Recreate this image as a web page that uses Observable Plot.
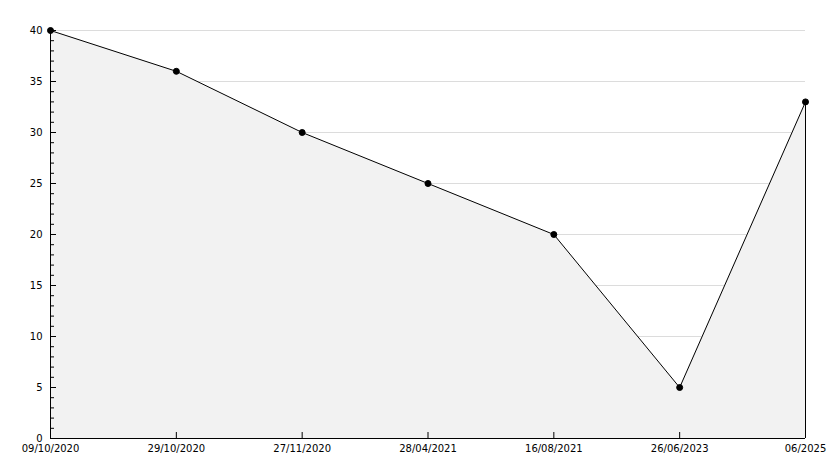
<!DOCTYPE html>
<html><head><meta charset="utf-8">
<script src="https://cdn.jsdelivr.net/npm/d3@7"></script>
<script src="https://cdn.jsdelivr.net/npm/@observablehq/plot@0.6"></script>
<style>body{margin:0;background:#fff}</style>
</head><body><div id="chart"></div>
<script>
const dates = ["09/10/2020", "29/10/2020", "27/11/2020", "28/04/2021", "16/08/2021", "26/06/2023", "06/2025"];
const values = [40, 36, 30, 25, 20, 5, 33];
const yMajorTicks = [0, 5, 10, 15, 20, 25, 30, 35, 40];
const yMinorTicks = d3.range(0, 41).filter(v => v % 5 !== 0);

const data = dates.map((d, i) => ({date: d, value: values[i]}));
const last = data[data.length - 1];

const W = 834, H = 468, ML = 50, MR = 29, MT = 30, MB = 30;
const frameW = W - ML - MR, frameH = H - MT - MB;

const chart = Plot.plot({
  width: W, height: H,
  marginLeft: ML, marginRight: MR, marginTop: MT, marginBottom: MB,
  style: {fontFamily: "DejaVu Sans", fontSize: "10px", color: "#000", background: "#fff"},
  x: {type: "point", domain: dates, padding: 0, round: false, label: null},
  y: {domain: [0, 40], label: null},
  marks: [
    Plot.gridY(yMajorTicks.filter(v => v > 0), {stroke: "#dcdcdc", strokeOpacity: 1}),
    Plot.areaY(data, {x: "date", y: "value", fill: "#f2f2f2"}),
    Plot.line(data, {x: "date", y: "value", stroke: "#000", strokeWidth: 1}),
    Plot.ruleX([last], {x: "date", y1: 0, y2: "value", stroke: "#000"}),
    Plot.ruleY([0], {stroke: "#000"}),
    Plot.ruleX([dates[0]], {x: d => d, y1: 0, y2: 40, stroke: "#000"}),
    Plot.ruleY(yMajorTicks, {y: d => d, insetRight: frameW - 6, stroke: "#000"}),
    Plot.ruleY(yMinorTicks, {y: d => d, insetRight: frameW - 4, stroke: "#000"}),
    Plot.ruleX(dates, {x: d => d, insetTop: frameH - 6, stroke: "#000"}),
    Plot.dot(data, {x: "date", y: "value", r: 3, fill: "#000", stroke: "#000", strokeWidth: 1}),
    Plot.axisY(yMajorTicks, {tickSize: 0, tickPadding: 8, label: null}),
    Plot.axisX({tickSize: 0, tickPadding: 6, label: null})
  ]
});
document.getElementById("chart").appendChild(chart);
</script>
</body></html>
